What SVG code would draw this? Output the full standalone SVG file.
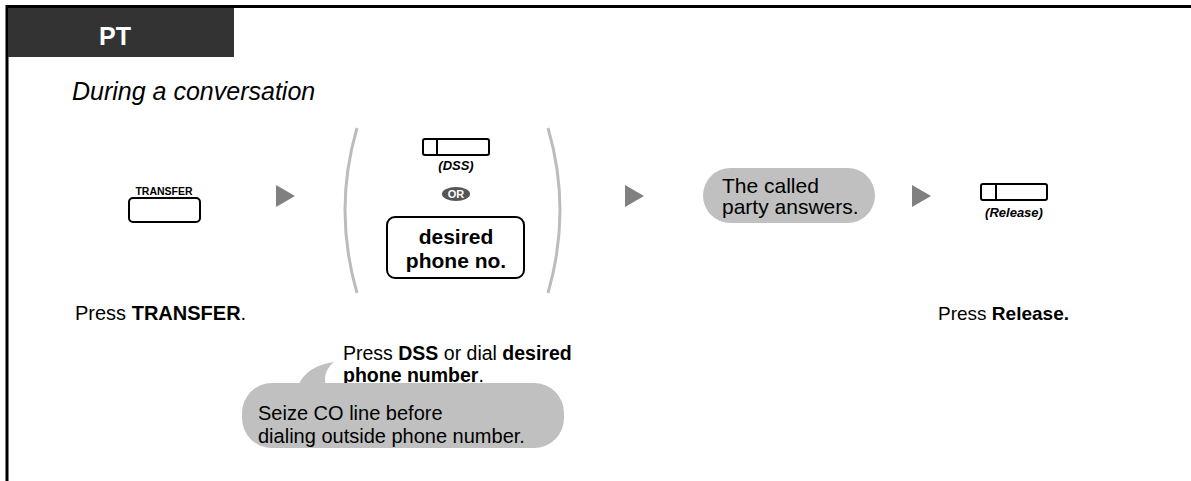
<svg xmlns="http://www.w3.org/2000/svg" width="1191" height="481" viewBox="0 0 1191 481">
<defs>
<style>
.t{font-family:"Liberation Sans",Arial,sans-serif;fill:#000}
.b{font-weight:bold}
.i{font-style:italic}
.key{fill:#fff;stroke:#000;stroke-width:2}
.arr{fill:#808080}
.bub{fill:#c0c0c0}
.par{fill:none;stroke:#bcbcbc;stroke-width:3}
</style>
</defs>
<rect width="1191" height="481" fill="#fff"/>
<g id="frame">
<path d="M7,481 V6.5 H1191" fill="none" stroke="#000" stroke-width="3"/>
<rect x="8" y="8" width="226" height="49" fill="#333"/>
<text class="t b" x="115" y="45" font-size="25" text-anchor="middle" style="fill:#fff">PT</text>
<text class="t i" x="72" y="100" font-size="25">During a conversation</text>
</g>
<g id="transfer">
<text class="t b" x="164" y="195" font-size="10.5" text-anchor="middle">TRANSFER</text>
<rect class="key" x="129" y="198" width="71" height="24" rx="4"/>
<text class="t" x="75" y="320" font-size="20">Press <tspan class="b">TRANSFER</tspan>.</text>
</g>
<g id="dial">
<path class="par" d="M357,128 Q333,210 357,293"/>
<path class="par" d="M548,128 Q572,210 548,293"/>
<rect class="key" x="423" y="139" width="66" height="16" rx="2"/>
<line x1="437" y1="139" x2="437" y2="155" stroke="#000" stroke-width="2"/>
<text class="t b i" x="456" y="170" font-size="13" text-anchor="middle">(DSS)</text>
<ellipse cx="456" cy="194" rx="14" ry="7" fill="#555"/>
<text class="t b" x="456" y="198" font-size="11" text-anchor="middle" style="fill:#fff">OR</text>
<rect class="key" x="387" y="217" width="137" height="61" rx="8"/>
<text class="t b" x="456" y="244" font-size="21" text-anchor="middle">desired</text>
<text class="t b" x="456" y="268" font-size="21" text-anchor="middle">phone no.</text>
<text class="t" x="343" y="360" font-size="19.5">Press <tspan class="b">DSS</tspan> or dial <tspan class="b">desired</tspan></text>
<text class="t" x="343" y="382" font-size="19.5"><tspan class="b">phone number</tspan>.</text>
</g>
<g id="note">
<path class="bub" d="M298,386 Q306,366 334,362 Q322,372 326,386 Z"/>
<rect class="bub" x="242" y="383" width="322" height="65" rx="30"/>
<text class="t" x="258" y="420" font-size="20">Seize CO line before</text>
<text class="t" x="258" y="443" font-size="20">dialing outside phone number.</text>
</g>
<g id="answer">
<rect class="bub" x="703" y="168" width="172" height="55" rx="27.5"/>
<text class="t" x="722" y="193" font-size="21">The called</text>
<text class="t" x="722" y="214" font-size="21">party answers.</text>
</g>
<g id="release">
<rect class="key" x="981" y="184" width="66" height="16" rx="2"/>
<line x1="996" y1="184" x2="996" y2="200" stroke="#000" stroke-width="2"/>
<text class="t b i" x="1014" y="217" font-size="13" text-anchor="middle">(Release)</text>
<text class="t" x="938" y="320" font-size="19">Press <tspan class="b">Release.</tspan></text>
</g>
<g id="connectors">
<path class="arr" d="M276,185 L295,196 L276,207 Z"/>
<path class="arr" d="M625,185 L644,196 L625,207 Z"/>
<path class="arr" d="M912,185 L931,196 L912,207 Z"/>
</g>
</svg>
